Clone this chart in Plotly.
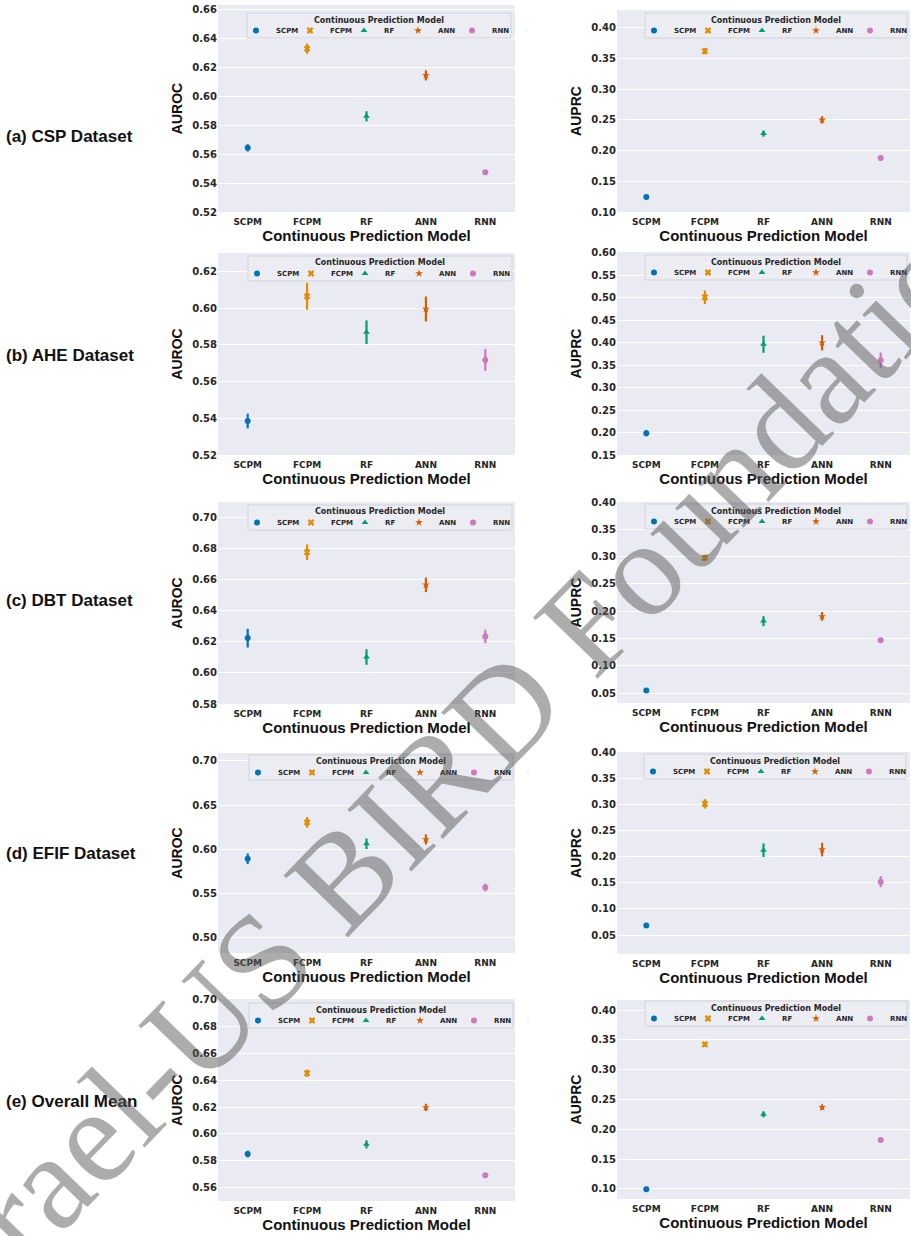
import plotly.graph_objects as go

W, H = 911, 1236

models = ["SCPM", "FCPM", "RF", "ANN", "RNN"]
colors = ["#0173B2", "#DE8F05", "#029E73", "#D55E00", "#CC78BC"]
symbols = ["circle", "x", "triangle-up", "star", "circle"]

row_labels = ["(a) CSP Dataset", "(b) AHE Dataset", "(c) DBT Dataset",
              "(d) EFIF Dataset", "(e) Overall Mean"]
legend_title = "Continuous Prediction Model"

auroc_csp = [0.5643, 0.6328, 0.5861, 0.6144, 0.5475]
auroc_csp_err = [0.0025, 0.0035, 0.0035, 0.0035, 0.0015]
auprc_csp = [0.1245, 0.362, 0.2277, 0.250, 0.188]
auprc_csp_err = [0.002, 0.005, 0.005, 0.006, 0.004]

auroc_ahe = [0.5385, 0.6064, 0.5869, 0.5995, 0.5718]
auroc_ahe_err = [0.004, 0.0073, 0.0064, 0.0068, 0.006]
auprc_ahe = [0.1987, 0.5013, 0.3967, 0.3997, 0.3611]
auprc_ahe_err = [0.007, 0.015, 0.019, 0.017, 0.017]

auroc_dbt = [0.6224, 0.6777, 0.6102, 0.6567, 0.6235]
auroc_dbt_err = [0.006, 0.005, 0.005, 0.0047, 0.0043]
auprc_dbt = [0.0547, 0.2977, 0.182, 0.1905, 0.1467]
auprc_dbt_err = [0.002, 0.006, 0.009, 0.008, 0.005]

auroc_efif = [0.5894, 0.6306, 0.6064, 0.6113, 0.557]
auroc_efif_err = [0.006, 0.006, 0.006, 0.0057, 0.0043]
auprc_efif = [0.0686, 0.301, 0.2123, 0.2135, 0.1522]
auprc_efif_err = [0.002, 0.009, 0.013, 0.013, 0.0105]

auroc_mean = [0.585, 0.6452, 0.5922, 0.6197, 0.5691]
auroc_mean_err = [0.0025, 0.0027, 0.003, 0.0027, 0.0012]
auprc_mean = [0.0995, 0.3425, 0.2251, 0.2369, 0.1821]
auprc_mean_err = [0.002, 0.004, 0.005, 0.0045, 0.003]

# y-axis ranges and tick values (left: AUROC, right: AUPRC)
y_ranges = [[0.52, 0.663], [0.10, 0.429],
            [0.52, 0.630], [0.15, 0.602],
            [0.58, 0.710], [0.032, 0.40],
            [0.483, 0.709], [0.014, 0.40],
            [0.550, 0.7005], [0.083, 0.417]]
y_ticks = [[0.52, 0.54, 0.56, 0.58, 0.60, 0.62, 0.64, 0.66],
           [0.10, 0.15, 0.20, 0.25, 0.30, 0.35, 0.40],
           [0.52, 0.54, 0.56, 0.58, 0.60, 0.62],
           [0.15, 0.20, 0.25, 0.30, 0.35, 0.40, 0.45, 0.50, 0.55, 0.60],
           [0.58, 0.60, 0.62, 0.64, 0.66, 0.68, 0.70],
           [0.05, 0.10, 0.15, 0.20, 0.25, 0.30, 0.35, 0.40],
           [0.50, 0.55, 0.60, 0.65, 0.70],
           [0.05, 0.10, 0.15, 0.20, 0.25, 0.30, 0.35, 0.40],
           [0.56, 0.58, 0.60, 0.62, 0.64, 0.66, 0.68, 0.70],
           [0.10, 0.15, 0.20, 0.25, 0.30, 0.35, 0.40]]

panels = [(auroc_csp, auroc_csp_err, "AUROC"), (auprc_csp, auprc_csp_err, "AUPRC"),
          (auroc_ahe, auroc_ahe_err, "AUROC"), (auprc_ahe, auprc_ahe_err, "AUPRC"),
          (auroc_dbt, auroc_dbt_err, "AUROC"), (auprc_dbt, auprc_dbt_err, "AUPRC"),
          (auroc_efif, auroc_efif_err, "AUROC"), (auprc_efif, auprc_efif_err, "AUPRC"),
          (auroc_mean, auroc_mean_err, "AUROC"), (auprc_mean, auprc_mean_err, "AUPRC")]

# layout geometry in pixels
x_px = [(218, 515), (617, 910)]
y_px = [(5, 212), (10, 212),
        (253, 455), (252, 455),
        (502, 704), (502, 703),
        (753, 953), (752, 954),
        (999, 1201), (1000, 1199)]
legend_px = [(247, 13), (645, 13),
             (248, 256), (645, 255),
             (248, 505), (645, 504),
             (249, 755), (644, 754),
             (249, 1003), (645, 1001)]
legend_w = [264, 262]
legend_h = 25
row_label_y = [136, 355, 600, 853, 1101]

tick_font = dict(family="DejaVu Sans", size=10, color="#262626", weight="bold")
title_font = dict(family="Liberation Sans", size=14, color="#111111", weight="bold")

fig = go.Figure()
layout = dict(
    width=W, height=H,
    margin=dict(l=0, r=0, t=0, b=0, autoexpand=False),
    paper_bgcolor="white",
    plot_bgcolor="#EAEAF2",
    showlegend=True,
    annotations=[],
    shapes=[],
)

for i, (vals, errs, ylab) in enumerate(panels):
    n = i + 1
    c = i % 2
    xs = "" if n == 1 else str(n)
    leg = "legend" if n == 1 else f"legend{n}"
    for k, m in enumerate(models):
        fig.add_trace(go.Scatter(
            x=[m], y=[vals[k]],
            error_y=dict(type="data", array=[errs[k]], color=colors[k],
                         thickness=2.2, width=0),
            mode="markers",
            marker=dict(symbol=symbols[k], color=colors[k], size=6,
                        line=dict(width=0)),
            name=m, legend=leg, showlegend=True,
            xaxis="x" + xs, yaxis="y" + xs,
        ))
    # empty spacer entry so that the last legend label is not clipped
    fig.add_trace(go.Scatter(
        x=[None], y=[None], mode="markers", marker=dict(opacity=0, size=1),
        name="", legend=leg, showlegend=True, hoverinfo="skip",
        xaxis="x" + xs, yaxis="y" + xs,
    ))
    x0, x1 = x_px[c]
    t, b = y_px[i]
    layout["xaxis" + xs] = dict(
        domain=[x0 / W, x1 / W], anchor="y" + xs,
        type="category", categoryorder="array", categoryarray=models,
        range=[-0.5, 4.5], showgrid=False, zeroline=False, showline=False,
        ticks="", ticklabelstandoff=3,
        tickfont=dict(family="DejaVu Sans", size=9, color="#262626", weight="bold"),
        title=dict(text="Continuous Prediction Model", font=dict(
            family="Liberation Sans", size=15, color="#111111", weight="bold"), standoff=3),
        fixedrange=True,
    )
    layout["yaxis" + xs] = dict(
        domain=[1 - b / H, 1 - t / H], anchor="x" + xs,
        range=y_ranges[i], tickvals=y_ticks[i], tickformat=".2f",
        showgrid=True, gridcolor="white", gridwidth=1,
        zeroline=False, showline=False, ticks="",
        tickfont=tick_font,
        title=dict(text=ylab, font=title_font, standoff=6),
        fixedrange=True,
    )
    lx, ly = legend_px[i]
    lw = legend_w[c]
    # legend frame
    layout["shapes"].append(dict(
        type="rect", xref="paper", yref="paper",
        x0=lx / W, x1=(lx + lw) / W, y0=1 - (ly + legend_h) / H, y1=1 - ly / H,
        fillcolor="rgba(236,236,243,0.85)", line=dict(color="#D2D2DA", width=1),
        layer="above",
    ))
    # legend title
    layout["annotations"].append(dict(
        text=legend_title, x=(lx + lw / 2) / W, y=1 - (ly + 7) / H,
        xref="paper", yref="paper", xanchor="center", yanchor="middle",
        showarrow=False,
        font=dict(family="DejaVu Sans", size=8, color="#262626", weight="bold"),
    ))
    layout[leg] = dict(
        orientation="h", x=(lx - 11) / W, y=1 - (ly + 3) / H,
        xanchor="left", yanchor="top",
        bgcolor="rgba(0,0,0,0)", borderwidth=0,
        font=dict(family="DejaVu Sans", size=7, color="#262626", weight="bold"),
        entrywidth=9, entrywidthmode="pixels",
        itemsizing="trace", tracegroupgap=0,
    )

for r, lab in enumerate(row_labels):
    layout["annotations"].append(dict(
        text=lab, x=4 / W, y=1 - row_label_y[r] / H, xref="paper", yref="paper",
        xanchor="left", yanchor="middle", showarrow=False,
        font=dict(family="Liberation Sans", size=17, color="#111111", weight="bold"),
    ))

# watermark
layout["annotations"].append(dict(
    text="Israel-US BIRD Foundation", x=459 / W, y=1 - 756 / H,
    xref="paper", yref="paper", xanchor="center", yanchor="middle",
    showarrow=False, textangle=-46,
    font=dict(family="Liberation Serif", size=136, color="rgba(90,90,90,0.5)"),
))

fig.update_layout(**layout)
fig.write_html("out.html")
